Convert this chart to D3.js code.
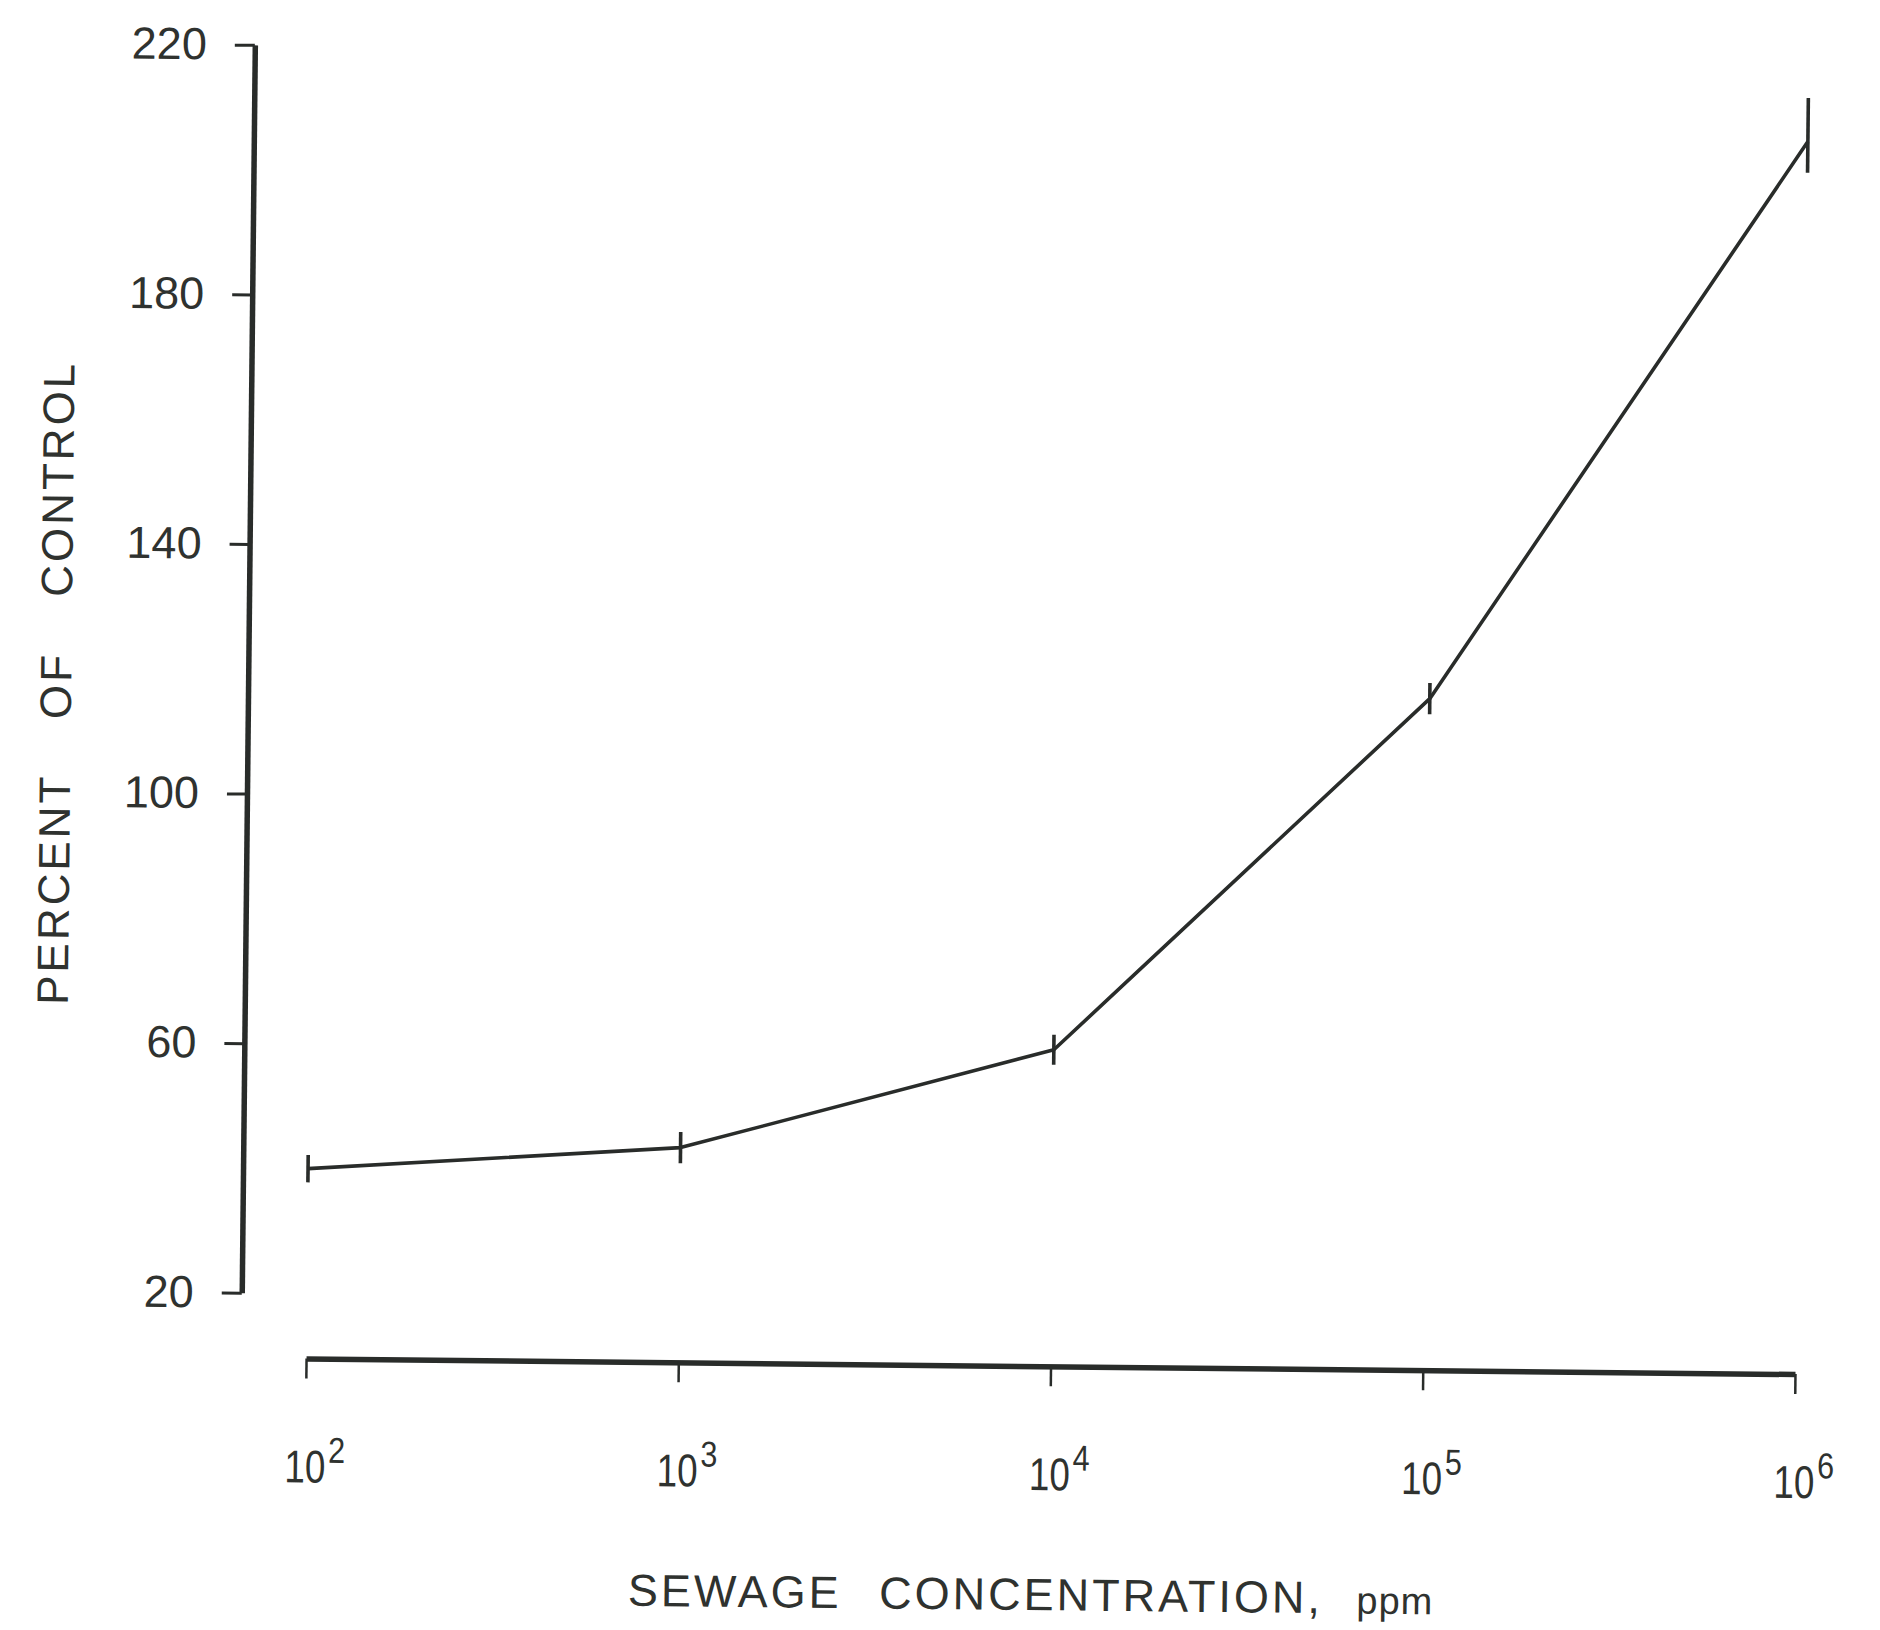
<!DOCTYPE html>
<html>
<head>
<meta charset="utf-8">
<script src="https://cdn.jsdelivr.net/npm/d3@7"></script>
<style>
  html, body { margin: 0; padding: 0; background: #ffffff; }
  svg { display: block; }
</style>
</head>
<body>
<script>
// ---- data ----
const concentrations = [1e2, 1e3, 1e4, 1e5, 1e6];          // ppm
const percentOfControl = [40, 44, 60.3, 117.2, 207.1];     // % of control
const errorsUp = [2.2, 2.5, 2.4, 2.5, 7];                  // upper error
const errorsDown = [2.2, 2.5, 2.4, 2.5, 5];                // lower error
const yTicks = [20, 60, 100, 140, 180, 220];
const xTicks = [1e2, 1e3, 1e4, 1e5, 1e6];
const xTickExponents = ["2", "3", "4", "5", "6"];
const xTitle = "SEWAGE CONCENTRATION,";
const xTitleUnit = "ppm";
const yTitle = "PERCENT OF CONTROL";

const W = 1880, H = 1630;
const ink = "#292c2a";
const textInk = "#2f322f";

const svg = d3.select("body").append("svg")
  .attr("width", W).attr("height", H)
  .style("background", "#ffffff");

// slight scan skew of the original figure
const g = svg.append("g").attr("transform", "rotate(0.6, 1030, 700)");

const x = d3.scaleLog().domain([1e2, 1e6]).range([313, 1802]);
const y = d3.scaleLinear().domain([20, 220]).range([1301, 53]);

const axisX = 248, axisY = 1366;

// ---- y axis ----
const yAxis = g.append("g")
  .attr("transform", `translate(${axisX},0)`)
  .call(d3.axisLeft(y).tickValues(yTicks).tickSize(20).tickSizeOuter(0).tickPadding(28));
yAxis.select(".domain").attr("stroke", ink).attr("stroke-width", 5.5);
yAxis.selectAll(".tick line").attr("stroke", ink).attr("stroke-width", 3);
yAxis.selectAll(".tick text")
  .attr("fill", textInk)
  .style("font-family", "'Liberation Sans', Arial, sans-serif")
  .style("font-size", "45px");

// ---- x axis ----
const xAxis = g.append("g")
  .attr("transform", `translate(0,${axisY})`)
  .call(d3.axisBottom(x).tickValues(xTicks).tickSize(20).tickSizeOuter(0).tickFormat(""));
xAxis.select(".domain").attr("stroke", ink).attr("stroke-width", 5.5);
xAxis.selectAll(".tick line").attr("stroke", ink).attr("stroke-width", 2.5);

// x tick labels: "10" centred on the tick (condensed), exponent as superscript
const labelFont = "'Liberation Sans', Arial, sans-serif";
g.append("g").selectAll("text.xbase")
  .data(xTicks)
  .join("text")
  .attr("class", "xbase")
  .attr("transform", d => `translate(${x(d)},${axisY + 124}) scale(0.8,1)`)
  .attr("text-anchor", "middle")
  .attr("fill", textInk)
  .style("font-family", labelFont)
  .style("font-size", "46px")
  .text("10");
g.append("g").selectAll("text.xexp")
  .data(xTicks)
  .join("text")
  .attr("class", "xexp")
  .attr("transform", d => `translate(${x(d) + 23},${axisY + 104}) scale(0.85,1)`)
  .attr("text-anchor", "start")
  .attr("fill", textInk)
  .style("font-family", labelFont)
  .style("font-size", "36px")
  .text((d, i) => xTickExponents[i]);

// ---- data line ----
const pts = concentrations.map((c, i) => ({ c, v: percentOfControl[i], up: errorsUp[i], dn: errorsDown[i] }));
g.append("path")
  .datum(pts)
  .attr("fill", "none")
  .attr("stroke", ink)
  .attr("stroke-width", 3.6)
  .attr("stroke-linejoin", "round")
  .attr("d", d3.line().x(d => x(d.c)).y(d => y(d.v)));

// error bars
g.append("g").selectAll("line.err")
  .data(pts)
  .join("line")
  .attr("class", "err")
  .attr("x1", d => x(d.c)).attr("x2", d => x(d.c))
  .attr("y1", d => y(d.v - d.dn)).attr("y2", d => y(d.v + d.up))
  .attr("stroke", ink)
  .attr("stroke-width", 3.6);

// ---- axis titles ----
g.append("text")
  .attr("transform", "translate(71,693) rotate(-90)")
  .attr("text-anchor", "middle")
  .attr("fill", textInk)
  .style("font-family", "'Liberation Sans', Arial, sans-serif")
  .style("font-size", "44px")
  .style("letter-spacing", "3px")
  .style("word-spacing", "40px")
  .text(yTitle);

const xt = g.append("text")
  .attr("x", 1040)
  .attr("y", 1610)
  .attr("text-anchor", "middle")
  .attr("fill", textInk)
  .style("font-family", "'Liberation Sans', Arial, sans-serif")
  .style("font-size", "45px")
  .style("letter-spacing", "3px")
  .style("word-spacing", "22px");
xt.append("tspan").text(xTitle);
xt.append("tspan").text(" " + xTitleUnit).style("font-size", "38px").style("letter-spacing", "1px");
</script>
</body>
</html>
